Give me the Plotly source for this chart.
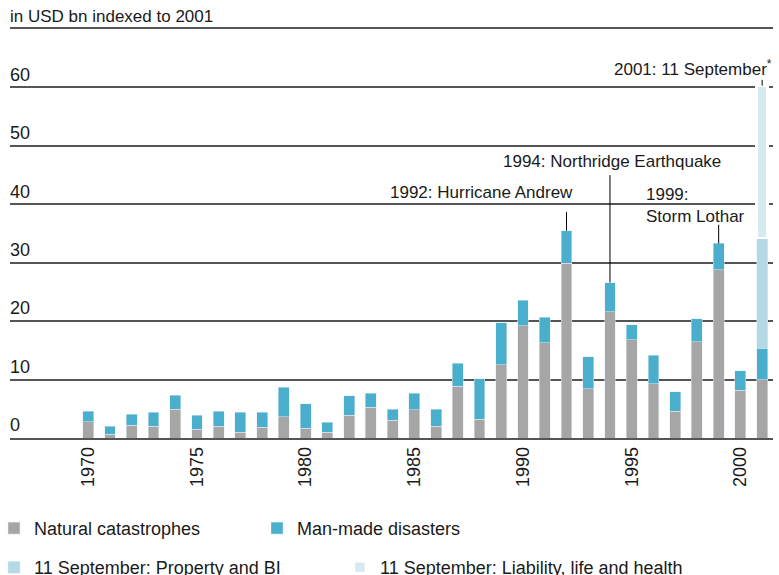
import plotly.graph_objects as go

# Insured catastrophe losses, USD bn indexed to 2001
years = list(range(1970, 2002))
natural = [2.8, 0.6, 2.2, 2.0, 4.9, 1.5, 2.0, 1.0, 1.8, 3.6,
           1.7, 1.0, 3.9, 5.3, 3.0, 4.8, 2.0, 8.9, 3.2, 12.5,
           19.2, 16.3, 29.9, 8.4, 21.6, 16.8, 9.3, 4.6, 16.5, 28.8,
           8.2, 10.0]
manmade = [1.8, 1.4, 1.9, 2.4, 2.4, 2.4, 2.6, 3.4, 2.6, 5.1,
           4.2, 1.7, 3.3, 2.4, 1.9, 2.9, 2.9, 3.9, 6.9, 7.2,
           4.4, 4.4, 5.6, 5.5, 5.0, 2.6, 4.9, 3.3, 3.9, 4.5,
           3.3, 5.4]
sept11_years = [2001]
sept11_property = [18.8]
sept11_liability = [26.1]

events = [
    # year, label, leader length (USD bn), text anchor, pixel shift, text centre (USD bn)
    (1992, "1992: Hurricane Andrew", 3.2, "right", 9, 42.0),
    (1994, "1994: Northridge Earthquake", 18.4, "right", 113, 47.4),
    (1999, "1999:<br>Storm Lothar", 3.2, "left", -75, 39.8),
    (2001, "2001: 11 September<sup>*</sup>", 1.0, "right", 12, 63.3),
]

C_NAT = "#a6a6a6"
C_MAN = "#4aafcd"
C_PROP = "#b3d8e6"
C_LIAB = "#d7e9f1"
FONT = "Liberation Sans, Arial, sans-serif"
INK = "#1a1a1a"

totals = {y: n + m for y, n, m in zip(years, natural, manmade)}
for y, p, l in zip(sept11_years, sept11_property, sept11_liability):
    totals[y] += p + l

fig = go.Figure()
fig.add_bar(x=years, y=natural, name="Natural catastrophes",
            marker_color=C_NAT, legend="legend")
fig.add_bar(x=years, y=manmade, name="Man-made disasters",
            marker_color=C_MAN, legend="legend")
fig.add_bar(x=sept11_years, y=sept11_property,
            name="11 September: Property and BI",
            marker_color=C_PROP, legend="legend2")
fig.add_bar(x=sept11_years, y=sept11_liability,
            name="11 September: Liability, life and health",
            marker=dict(color=C_LIAB, line=dict(color="white", width=2.5)),
            legend="legend2")

# leader lines from the bar tops to the event labels
for yr, label, length, anchor, shift, ytext in events:
    top = totals[yr]
    fig.add_trace(go.Scatter(x=[yr, yr], y=[top, top + length], mode="lines",
                             line=dict(color="#000", width=1),
                             hoverinfo="skip", showlegend=False))
    fig.add_annotation(x=yr, y=ytext, xref="x", yref="y", text=label,
                       showarrow=False, xanchor=anchor, yanchor="middle",
                       xshift=shift, align="left",
                       font=dict(family=FONT, size=17, color=INK))

fig.add_annotation(x=0, y=1, xref="paper", yref="paper",
                   text="in USD bn indexed to 2001", showarrow=False,
                   xanchor="left", yanchor="bottom", xshift=-2, yshift=1,
                   font=dict(family=FONT, size=17, color=INK))

fig.update_layout(
    width=779, height=575,
    margin=dict(l=10, r=6, t=29, b=137, autoexpand=False),
    barmode="stack", bargap=0.5,
    plot_bgcolor="white", paper_bgcolor="white",
    font=dict(family=FONT, size=18, color=INK),
    legend=dict(orientation="h", x=-0.021, xanchor="left", y=-0.221,
                yanchor="middle", entrywidth=218, traceorder="normal",
                font=dict(size=18, color=INK), itemclick=False),
    legend2=dict(orientation="h", x=-0.021, xanchor="left", y=-0.317,
                 yanchor="middle", entrywidth=301, traceorder="normal",
                 font=dict(size=18, color=INK), itemclick=False),
    showlegend=True,
)
fig.update_xaxes(range=[1966.4, 2001.5], tickvals=list(range(1970, 2001, 5)),
                 tickangle=-90, ticks="", showgrid=False,
                 showline=True, mirror=True, linecolor="#555", linewidth=1.5,
                 tickfont=dict(size=18, color=INK), zeroline=False)
fig.update_yaxes(range=[0, 70], tickvals=list(range(0, 61, 10)),
                 showgrid=True, gridcolor="#555", gridwidth=1.5,
                 zeroline=False, ticks="", ticklabelposition="inside",
                 ticklabeloverflow="allow",
                 ticklabelshift=-13, ticklabelstandoff=-3,
                 tickfont=dict(size=18, color=INK))

fig.write_html("out.html")
